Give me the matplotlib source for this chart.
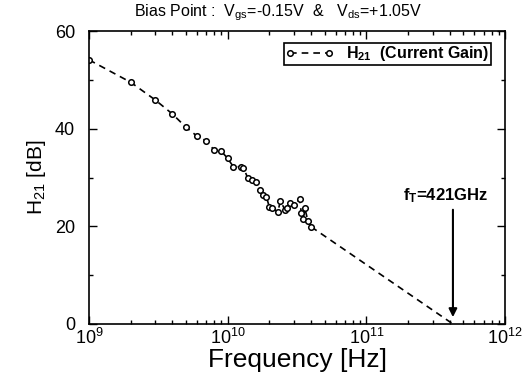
import matplotlib
matplotlib.use("Agg")
import matplotlib.pyplot as plt
from matplotlib.ticker import LogLocator, MultipleLocator, NullFormatter

plt.rcParams['font.family'] = ['Liberation Sans', 'DejaVu Sans']
plt.rcParams['mathtext.default'] = 'regular'

# Measured H21 (current gain)
freq_ghz = [1, 2, 3, 4, 5, 6, 7, 8, 9, 10, 11, 12.5, 13, 14, 15, 16, 17, 18, 19,
            20, 21, 23, 24, 26, 27, 28, 30, 33, 34, 35, 36, 38, 40]
h21_db = [54.1, 49.5, 45.9, 43.0, 40.3, 38.5, 37.5, 35.6, 35.4, 33.9, 32.2, 32.2,
          32.0, 29.8, 29.5, 29.1, 27.4, 26.4, 26.1, 23.9, 23.7, 23.0, 25.2, 23.3,
          23.7, 24.7, 24.4, 25.5, 22.7, 21.6, 23.7, 21.0, 19.9]
# -20 dB/decade extrapolation to fT
extrap_ghz = [40, 421]
extrap_db = [19.9, 0.0]
ft_ghz = 421

freq_hz = [f * 1e9 for f in freq_ghz]
extrap_hz = [f * 1e9 for f in extrap_ghz]

fig = plt.figure(figsize=(5.22, 3.74), dpi=100)
ax = fig.add_axes([0.1705, 0.1337, 0.797, 0.7833])

ax.plot(extrap_hz, extrap_db, color='black', lw=1.2, ls=(0, (4, 3)))
ax.plot(freq_hz, h21_db, color='black', lw=1.2, ls=(0, (4, 3)),
        marker='o', ms=4, mfc='white', mec='black', mew=1.1,
        label=r'H$_{21}$  (Current Gain)')

ax.set_xscale('log')
ax.set_xlim(1e9, 1e12)
ax.set_ylim(0, 60)
ax.set_yticks([0, 20, 40, 60])
ax.yaxis.set_minor_locator(MultipleLocator(10))
ax.xaxis.set_major_locator(LogLocator(base=10, numticks=10))
ax.xaxis.set_minor_locator(LogLocator(base=10, subs=range(2, 10), numticks=50))
ax.xaxis.set_minor_formatter(NullFormatter())

ax.tick_params(which='both', direction='in', top=True, right=True, width=1)
ax.tick_params(which='major', length=6, labelsize=13)
ax.tick_params(which='minor', length=3)
ax.tick_params(axis='y', which='major', pad=10)
ax.tick_params(axis='x', which='major', pad=3)
for s in ax.spines.values():
    s.set_linewidth(1.2)

ax.set_xlabel('Frequency [Hz]', fontsize=19, labelpad=0)
ax.set_ylabel(r'H$_{21}$ [dB]', fontsize=15, labelpad=5)
fig.text(0.533, 0.965, r'Bias Point :  V$_{gs}$=-0.15V  &   V$_{ds}$=+1.05V',
         fontsize=11.5, ha='center', va='center')

ax.annotate('', xy=(ft_ghz * 1e9, 1.4), xytext=(ft_ghz * 1e9, 23.4),
            arrowprops=dict(arrowstyle='-|>', color='black', lw=1.5,
                            mutation_scale=12, shrinkA=0, shrinkB=0))
ax.text(3.75e11, 24.4, r'f$_T$=421GHz', ha='center', va='bottom',
        fontsize=12, fontweight='bold')

leg = ax.legend(loc='upper right', bbox_to_anchor=(0.966, 0.96), numpoints=2,
                fancybox=False, edgecolor='black', framealpha=1,
                prop={'weight': 'bold', 'size': 11.5}, handlelength=3.0,
                borderpad=0.1, handletextpad=0.8, borderaxespad=0)
leg.get_frame().set_linewidth(1.2)

fig.savefig('out.png', dpi=100)
